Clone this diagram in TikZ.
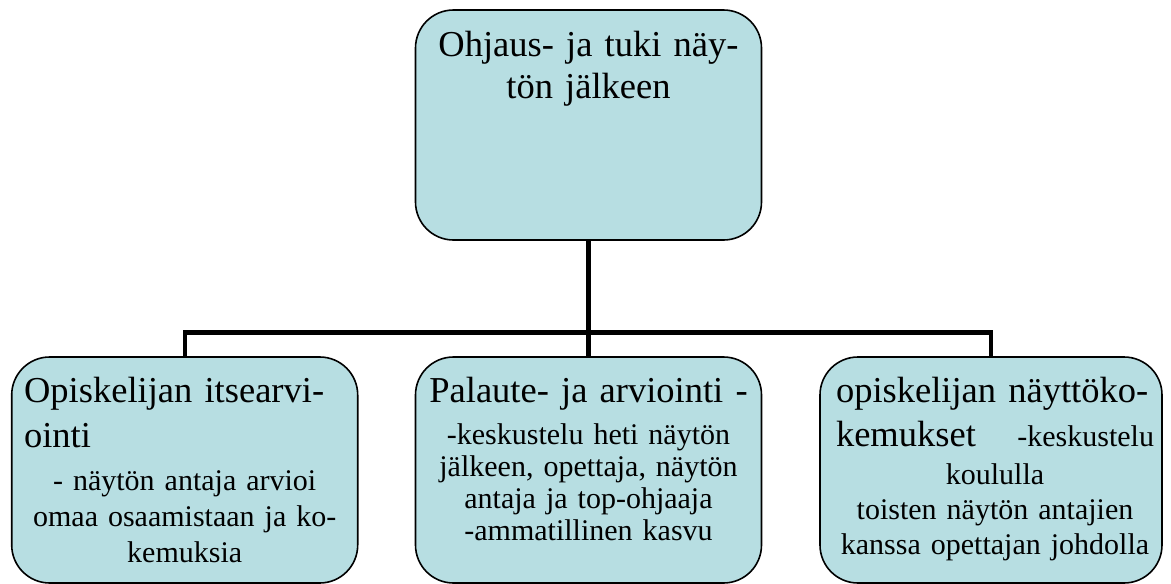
\documentclass[tikz,border=0pt]{standalone}
\usepackage{fontspec}
\setmainfont{Liberation Serif}
\definecolor{boxfill}{RGB}{183,222,226}

\begin{document}
\begin{tikzpicture}[x=1pt, y=1pt, node distance=345pt,
  box/.style={shape=rectangle, rounded corners=38pt, draw, line width=1.6pt, fill=boxfill, minimum width=346pt, inner sep=0pt},
  big/.style={font=\fontsize{36.5}{#1}\selectfont, inner sep=0pt, anchor=base},
  small/.style={font=\fontsize{30}{#1}\selectfont, inner sep=0pt, anchor=base, align=center, text width=340pt},
  link/.style={line width=4.3pt}]
\useasboundingbox (0,0) rectangle (1171,-584);
\node [box, minimum height=230pt] (top) at (588.5,-125) {};
\node [box, minimum height=226pt, below of=top] (palaute) {};
\node [box, minimum height=226pt, left of=palaute, node distance=403.8pt] (itse) {};
\node [box, minimum height=226pt, minimum width=342pt, right of=palaute, node distance=402.5pt] (koke) {};

\node [big=41.7, align=center, text width=340pt] (toptext) at ([yshift=-47.3pt]top.north) {Ohjaus- ja tuki näy-\\tön jälkeen};

\node [big=45, align=left, text width=330pt, anchor=base west] (itsetitle) at ([xshift=13pt, yshift=-46pt]itse.north west) {Opiskelijan itsearvi-\\ointi};
\node [small=36] (itsetext) at ([yshift=-134.7pt]itse.north) {- näytön antaja arvioi\\omaa osaamistaan ja ko-\\kemuksia};

\node [big=44, align=center, text width=340pt] (palautetitle) at ([yshift=-46.3pt]palaute.north) {Palaute- ja arviointi -};
\node [small=32] (palautetext) at ([yshift=-88.7pt]palaute.north) {-keskustelu heti näytön\\jälkeen, opettaja, näytön\\antaja ja top-ohjaaja\\-ammatillinen kasvu};

\node [big=44.3, align=left, text width=318pt] (koketitle) at ([xshift=4pt, yshift=-46pt]koke.north) {\makebox[318pt][s]{opiskelijan näyttöko-}\\\makebox[318pt]{kemukset\hfill{\fontsize{30}{35}\selectfont -keskustelu}}};
\node [small=35] (koketext) at ([xshift=4pt, yshift=-128pt]koke.north) {koululla\\toisten näytön antajien\\kanssa opettajan johdolla};

\coordinate (bus) at ([yshift=-91.7pt]top.south);
\draw [link] (top.south) -- (palaute.north);
\draw [link] (itse.north) |- (bus) -| (koke.north);
\end{tikzpicture}
\end{document}
